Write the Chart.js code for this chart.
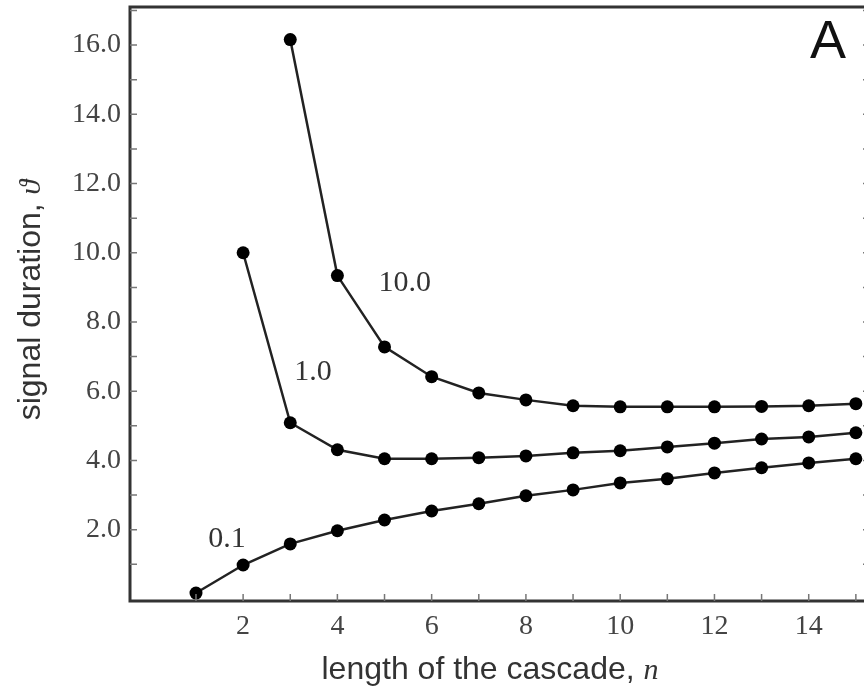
<!DOCTYPE html>
<html>
<head>
<meta charset="utf-8">
<script src="https://cdn.jsdelivr.net/npm/chart.js@4/dist/chart.umd.min.js"></script>
<style>
  body { margin: 0; background: #fff; overflow: hidden; }
  #wrap { width: 864px; height: 694px; overflow: hidden; }
</style>
</head>
<body>
<div id="wrap"><canvas id="cascadeChart" width="880" height="694"></canvas></div>
<script>
// Daten
const cascadeLength = [1, 2, 3, 4, 5, 6, 7, 8, 9, 10, 11, 12, 13, 14, 15];
const durationLow  = [0.17, 0.98, 1.59, 1.97, 2.28, 2.54, 2.75, 2.98, 3.15, 3.35, 3.47, 3.64, 3.79, 3.93, 4.05];
const durationMid  = [null, 10.0, 5.09, 4.31, 4.05, 4.05, 4.08, 4.13, 4.22, 4.28, 4.39, 4.50, 4.62, 4.68, 4.80];
const durationHigh = [null, null, 16.16, 9.34, 7.28, 6.42, 5.95, 5.75, 5.58, 5.55, 5.55, 5.55, 5.56, 5.58, 5.64];
const curveNames = ["0.1", "1.0", "10.0"];
const xTickLabels = [2, 4, 6, 8, 10, 12, 14];
const yTickLabels = [2, 4, 6, 8, 10, 12, 14, 16];

const toPoints = vals => cascadeLength.map((n, i) => ({ x: n, y: vals[i] }));

const lineStyle = {
  borderColor: "#222",
  borderWidth: 2.5,
  pointRadius: 6.5,
  pointBackgroundColor: "#000",
  pointBorderColor: "#000",
  pointBorderWidth: 0,
  tension: 0,
  clip: false,
  fill: false
};

// moldura, tracinhos para dentro e textos
const decoPlugin = {
  id: "deco",
  afterDraw(chart) {
    const { ctx, chartArea: a, scales: { x, y } } = chart;
    ctx.save();
    ctx.strokeStyle = "#333";
    ctx.lineWidth = 3;
    ctx.beginPath();
    ctx.moveTo(a.right + 2, a.top);
    ctx.lineTo(a.left, a.top);
    ctx.lineTo(a.left, a.bottom);
    ctx.lineTo(a.right + 2, a.bottom);
    ctx.stroke();

    ctx.lineWidth = 1.5;
    ctx.strokeStyle = "#777";
    ctx.beginPath();
    for (let v = 1; v <= x.max; v++) {
      const px = x.getPixelForValue(v);
      ctx.moveTo(px, a.bottom);
      ctx.lineTo(px, a.bottom - 7);
    }
    for (let v = 1; v <= y.max; v++) {
      const py = y.getPixelForValue(v);
      ctx.moveTo(a.left, py);
      ctx.lineTo(a.left + 7, py);
      ctx.moveTo(a.right, py);
      ctx.lineTo(a.right - 7, py);
    }
    ctx.stroke();

    // nomes das curvas
    ctx.fillStyle = "#333";
    ctx.font = "30px 'Liberation Serif', serif";
    ctx.textAlign = "center";
    ctx.textBaseline = "middle";
    ctx.fillText(curveNames[0], x.getPixelForValue(1.66), y.getPixelForValue(1.73));
    ctx.fillText(curveNames[1], x.getPixelForValue(3.48), y.getPixelForValue(6.56));
    ctx.fillText(curveNames[2], x.getPixelForValue(5.43), y.getPixelForValue(9.13));

    ctx.fillStyle = "#111";
    ctx.font = "54px 'Liberation Sans', Arial, sans-serif";
    ctx.fillText("A", 828, 43);

    // titulos dos eixos
    const sans = "32px 'Liberation Sans', Arial, sans-serif";
    const ital = "italic 30px 'Liberation Serif', serif";
    const drawTitle = (main, sym, cx, cy, rot) => {
      ctx.save();
      ctx.translate(cx, cy);
      ctx.rotate(rot);
      ctx.font = sans;
      const w1 = ctx.measureText(main).width;
      ctx.font = ital;
      const w2 = ctx.measureText(sym).width;
      const start = -(w1 + w2) / 2;
      ctx.textAlign = "left";
      ctx.textBaseline = "alphabetic";
      ctx.fillStyle = "#333";
      ctx.font = sans;
      ctx.fillText(main, start, 11);
      ctx.font = ital;
      ctx.fillText(sym, start + w1, 11);
      ctx.restore();
    };
    drawTitle("length of the cascade, ", "n", 490, 668, 0);
    drawTitle("signal duration, ", "\u03d1", 29, 300, -Math.PI / 2);
    ctx.restore();
  }
};

const ctx = document.getElementById("cascadeChart").getContext("2d");

new Chart(ctx, {
  type: "line",
  data: {
    datasets: [
      Object.assign({ label: curveNames[0], data: toPoints(durationLow) }, lineStyle),
      Object.assign({ label: curveNames[1], data: toPoints(durationMid) }, lineStyle),
      Object.assign({ label: curveNames[2], data: toPoints(durationHigh) }, lineStyle)
    ]
  },
  options: {
    responsive: false,
    animation: false,
    layout: { padding: { top: 7, right: 10, left: 0, bottom: 0 } },
    plugins: { legend: { display: false }, tooltip: { enabled: false } },
    scales: {
      x: {
        type: "linear",
        min: -0.4,
        max: 15.3,
        grid: { display: false, drawTicks: false },
        border: { display: false },
        afterBuildTicks: s => { s.ticks = xTickLabels.map(v => ({ value: v })); },
        afterFit: s => { s.height = 93; s.paddingLeft = 0; s.paddingRight = 0; },
        ticks: {
          padding: 9,
          color: "#444",
          maxRotation: 0,
          font: { family: "'Liberation Serif', serif", size: 28 }
        }
      },
      y: {
        type: "linear",
        min: -0.06,
        max: 17.1,
        grid: { display: false, drawTicks: false },
        border: { display: false },
        afterBuildTicks: s => { s.ticks = yTickLabels.map(v => ({ value: v })); },
        afterFit: s => { s.width = 130; s.paddingTop = 0; s.paddingBottom = 0; },
        ticks: {
          padding: 9,
          color: "#444",
          font: { family: "'Liberation Serif', serif", size: 28 },
          callback: v => v.toFixed(1)
        }
      }
    }
  },
  plugins: [decoPlugin]
});
</script>
</body>
</html>
